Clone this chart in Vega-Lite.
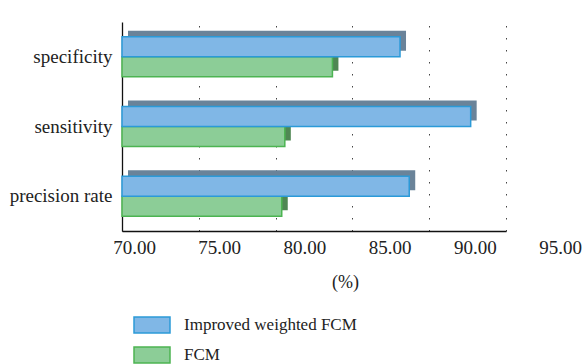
{
  "$schema": "https://vega.github.io/schema/vega-lite/v6.json",
  "autosize": "none",
  "width": 384,
  "height": 209,
  "padding": {"left": 122, "top": 22, "right": 81, "bottom": 133},
  "background": "white",
  "data": {
    "values": [
      {"metric": "specificity", "series": "Improved weighted FCM", "value": 88.1},
      {"metric": "specificity", "series": "FCM", "value": 83.7},
      {"metric": "sensitivity", "series": "Improved weighted FCM", "value": 92.7},
      {"metric": "sensitivity", "series": "FCM", "value": 80.6},
      {"metric": "precision rate", "series": "Improved weighted FCM", "value": 88.7},
      {"metric": "precision rate", "series": "FCM", "value": 80.4}
    ]
  },
  "config": {
    "view": {"stroke": null},
    "font": "Liberation Serif"
  },
  "resolve": {"scale": {"x": "independent"}, "axis": {"x": "independent"}},
  "encoding": {
    "y": {
      "field": "metric",
      "type": "nominal",
      "sort": ["specificity", "sensitivity", "precision rate"],
      "scale": {"paddingInner": 0, "paddingOuter": 0},
      "axis": {
        "title": null,
        "ticks": false,
        "domainColor": "#111",
        "domainWidth": 1.3,
        "labelFont": "Liberation Serif",
        "labelFontSize": 19,
        "labelColor": "#222",
        "labelPadding": 10
      }
    }
  },
  "layer": [
    {
      "layer": [
        {
          "transform": [{"filter": "datum.series === 'FCM'"}],
          "mark": {"type": "bar", "height": 20, "yOffset": 4, "xOffset": 6, "x2Offset": 6, "fill": "#4f8753"}
        },
        {
          "transform": [{"filter": "datum.series === 'FCM'"}],
          "mark": {"type": "bar", "height": 20, "yOffset": 10, "strokeWidth": 1.5},
          "encoding": {
            "fill": {"field": "series", "type": "nominal",
              "scale": {"domain": ["Improved weighted FCM", "FCM"], "range": ["#80b7e6", "#8ccd97"]},
              "legend": {
                "title": null,
                "orient": "none",
                "legendX": 11,
                "legendY": 284,
                "symbolType": "M-1,-0.44H1V0.44H-1Z",
                "symbolSize": 1296,
                "symbolStrokeWidth": 1.5,
                "labelFont": "Liberation Serif",
                "labelFontSize": 17,
                "labelColor": "#222",
                "labelOffset": 13,
                "labelLimit": 400,
                "rowPadding": 0
              }},
            "stroke": {"field": "series", "type": "nominal",
              "scale": {"domain": ["Improved weighted FCM", "FCM"], "range": ["#2b9ad8", "#4cb452"]}}
          }
        },
        {
          "transform": [{"filter": "datum.series === 'Improved weighted FCM'"}],
          "mark": {"type": "bar", "height": 20, "yOffset": -16, "xOffset": 6, "x2Offset": 6, "fill": "#6a8399"}
        },
        {
          "transform": [{"filter": "datum.series === 'Improved weighted FCM'"}],
          "mark": {"type": "bar", "height": 20, "yOffset": -10, "strokeWidth": 1.5},
          "encoding": {
            "fill": {"field": "series", "type": "nominal",
              "scale": {"domain": ["Improved weighted FCM", "FCM"], "range": ["#80b7e6", "#8ccd97"]},
              "legend": {
                "title": null,
                "orient": "none",
                "legendX": 11,
                "legendY": 284,
                "symbolType": "M-1,-0.44H1V0.44H-1Z",
                "symbolSize": 1296,
                "symbolStrokeWidth": 1.5,
                "labelFont": "Liberation Serif",
                "labelFontSize": 17,
                "labelColor": "#222",
                "labelOffset": 13,
                "labelLimit": 400,
                "rowPadding": 0
              }},
            "stroke": {"field": "series", "type": "nominal",
              "scale": {"domain": ["Improved weighted FCM", "FCM"], "range": ["#2b9ad8", "#4cb452"]}}
          }
        }
      ],
      "encoding": {
        "x": {
          "field": "value",
          "type": "quantitative",
          "scale": {"domain": [70, 95], "zero": false},
          "axis": {
            "orient": "bottom",
            "values": [70, 75, 80, 85, 90, 95],
            "labels": false,
            "title": null,
            "ticks": false,
            "domainColor": "#111",
            "domainWidth": 1.3,
            "grid": true,
            "gridColor": "#444",
            "gridDash": [1.5, 10.5],
            "gridWidth": 1
          }
        },
        "x2": {"datum": 70}
      }
    },
    {
      "mark": {"type": "point", "opacity": 0},
      "encoding": {
        "x": {
          "field": "value",
          "type": "quantitative",
          "scale": {"domain": [70, 95], "range": [12, 438], "zero": false},
          "axis": {
            "orient": "bottom",
            "values": [70, 75, 80, 85, 90, 95],
            "format": ".2f",
            "title": "(%)",
            "titleFont": "Liberation Serif",
            "titleFontSize": 18,
            "titleFontWeight": "normal",
            "titleColor": "#222",
            "titlePadding": 16,
            "titleX": 223,
            "domain": false,
            "ticks": false,
            "grid": false,
            "labelFont": "Liberation Serif",
            "labelFontSize": 19,
            "labelColor": "#222",
            "labelPadding": 7,
            "labelFlush": false,
            "labelOverlap": false
          }
        }
      }
    }
  ]
}
